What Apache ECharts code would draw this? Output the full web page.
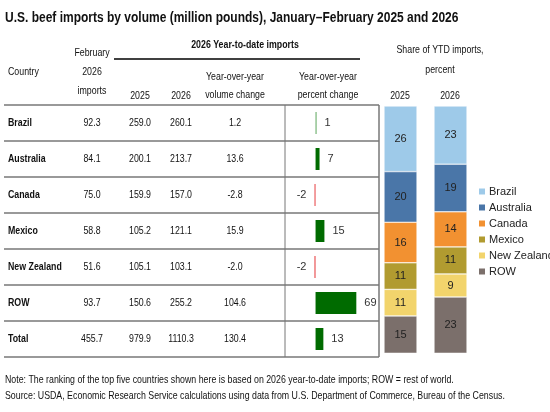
<!DOCTYPE html>
<html><head><meta charset="utf-8">
<script src="https://cdn.jsdelivr.net/npm/echarts@6/dist/echarts.min.js"></script>
<style>html,body{margin:0;padding:0;background:#fff}#c{width:550px;height:412px}</style>
</head><body><div id="c"></div>
<script>
const rows = ["Brazil", "Australia", "Canada", "Mexico", "New Zealand", "ROW", "Total"];
const febImports = ["92.3", "84.1", "75.0", "58.8", "51.6", "93.7", "455.7"];
const ytd2025 = ["259.0", "200.1", "159.9", "105.2", "105.1", "150.6", "979.9"];
const ytd2026 = ["260.1", "213.7", "157.0", "121.1", "103.1", "255.2", "1110.3"];
const volChange = ["1.2", "13.6", "-2.8", "15.9", "-2.0", "104.6", "130.4"];
const pctChange = [0.5, 6.8, -1.8, 15.1, -1.9, 69.4, 13.3];

const shareCountries = ["Brazil", "Australia", "Canada", "Mexico", "New Zealand", "ROW"];
const shareYears = ["2025", "2026"];
const share2025 = [26.4, 20.4, 16.3, 10.7, 10.7, 15.4];
const share2026 = [23.4, 19.2, 14.1, 10.9, 9.3, 23.0];
const shareColors = ["#9ecae9", "#4a76a8", "#f29131", "#b19b30", "#f2d46c", "#7b6f6b"];

const font = "'Liberation Sans', Arial, sans-serif";
const narrow = 0.8;
const rowTop = 105, rowH = 36;
const g = [];
function txt(x, y, t, o) {
  g.push({ type: "text", x, y, scaleX: narrow, originX: 0, originY: 0,
    style: Object.assign({ text: t, font: "11px " + font, fill: "#111", align: "center", verticalAlign: "middle" }, o || {}) });
}
function line(x1, y1, x2, y2, w, c) {
  g.push({ type: "line", shape: { x1, y1, x2, y2 }, style: { stroke: c || "#666", lineWidth: w || 1 } });
}

txt(5, 18, "U.S. beef imports by volume (million pounds), January\u2013February 2025 and 2026", { align: "left", font: "bold 15px " + font });
txt(245, 45, "2026 Year-to-date imports", { font: "bold 11px " + font });
line(114, 59, 360, 59, 1.5, "#000");
txt(8, 72, "Country", { align: "left" });
txt(92, 53, "February"); txt(92, 72, "2026"); txt(92, 91, "imports");
txt(140, 96, "2025"); txt(181, 96, "2026");
txt(235, 77, "Year-over-year"); txt(235, 95, "volume change");
txt(328, 77, "Year-over-year"); txt(328, 95, "percent change");
txt(440, 50, "Share of YTD imports,"); txt(440, 70, "percent");
txt(400, 96, "2025"); txt(450, 96, "2026");

for (let i = 0; i <= rows.length; i++) line(4, rowTop + i * rowH, 379, rowTop + i * rowH, 1.5, "#777");
line(285, rowTop, 285, rowTop + rows.length * rowH, 1, "#777");
line(379, rowTop, 379, rowTop + rows.length * rowH, 1.5, "#777");
rows.forEach((r, i) => {
  const y = rowTop + i * rowH + rowH / 2;
  txt(8, y, r, { align: "left", font: "bold 11px " + font });
  txt(92, y, febImports[i]);
  txt(140, y, ytd2025[i]);
  txt(181, y, ytd2026[i]);
  txt(235, y, volChange[i]);
});

txt(5, 380, "Note: The ranking of the top five countries shown here is based on 2026 year-to-date imports; ROW = rest of world.", { align: "left", font: "11px " + font });
txt(5, 396, "Source: USDA, Economic Research Service calculations using data from U.S. Department of Commerce, Bureau of the Census.", { align: "left", font: "11px " + font });

function barColor(v) { return v < 0 ? "#e8474a" : (v < 1 ? "#5aa55a" : "#006b00"); }

const chart = echarts.init(document.getElementById("c"));
const shareSeries = shareCountries.map((c, i) => ({
  name: c, type: "bar", stack: "s", xAxisIndex: 1, yAxisIndex: 1, barWidth: 33,
  itemStyle: { color: shareColors[i], borderColor: "#fff", borderWidth: 0.5 },
  label: { show: true, color: "#222", fontSize: 11, fontFamily: font, formatter: p => Math.round(p.value) },
  data: [share2025[i], share2026[i]]
}));

chart.setOption({
  animation: false,
  graphic: g,
  legend: {
    orient: "vertical", left: 472, top: 181, itemWidth: 8, itemHeight: 8, itemGap: 5,
    textStyle: { fontSize: 11, fontFamily: font, color: "#222", padding: [0, 0, 0, -2] },
    data: shareCountries, icon: "rect"
  },
  grid: [
    { left: 285, top: rowTop, width: 94, height: rowH * rows.length },
    { left: 375.5, top: 106, width: 100, height: 247 }
  ],
  xAxis: [
    { type: "value", gridIndex: 0, min: -52, max: 108, show: false },
    { type: "category", gridIndex: 1, data: shareYears, show: false }
  ],
  yAxis: [
    { type: "category", gridIndex: 0, data: rows, inverse: true, show: false },
    { type: "value", gridIndex: 1, inverse: true, min: 0, max: 99.4, show: false }
  ],
  series: [{
    type: "bar", xAxisIndex: 0, yAxisIndex: 0, barWidth: 22, barMinHeight: 1,
    data: pctChange.map(v => ({ value: v, itemStyle: { color: barColor(v) }, label: { position: v < 0 ? "left" : "right" } })),
    label: { show: true, fontSize: 11, fontFamily: font, color: "#333", distance: 8, formatter: p => Math.round(p.value) }
  }].concat(shareSeries)
});
</script></body></html>
